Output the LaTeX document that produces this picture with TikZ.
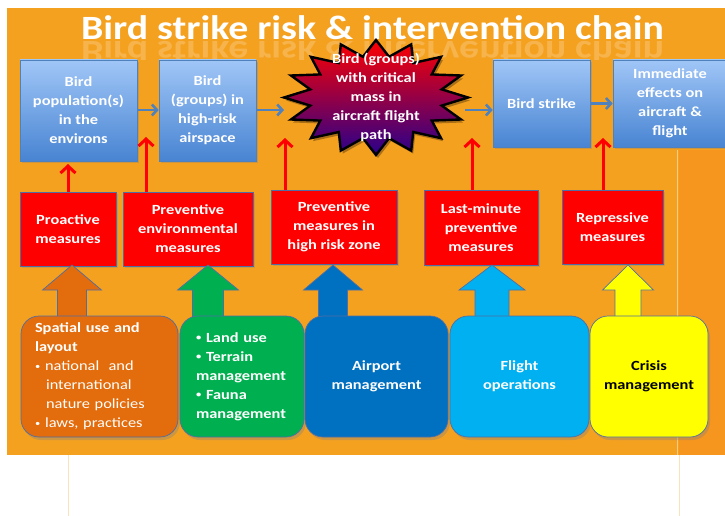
\documentclass[tikz,border=0pt]{standalone}
\usepackage{fontspec}
\setmainfont{Carlito}[FakeStretch=1.17]
\usetikzlibrary{arrows.meta,shadows}
\definecolor{bgorange}{RGB}{245,161,32}
\definecolor{stripor}{RGB}{247,150,30}
\definecolor{boxtop}{RGB}{160,198,247}
\definecolor{boxbot}{RGB}{72,132,210}
\definecolor{steel}{RGB}{79,129,189}
\definecolor{edgeblue}{RGB}{80,110,165}
\definecolor{borange}{RGB}{227,108,12}
\definecolor{bgreen}{RGB}{0,176,80}
\definecolor{bdblue}{RGB}{0,112,192}
\definecolor{blblue}{RGB}{0,176,240}
\definecolor{byellow}{RGB}{255,255,0}
\definecolor{starmid}{RGB}{160,0,130}
\definecolor{starbot}{RGB}{40,0,140}
\newcommand{\bul}{\makebox[10pt][l]{\raisebox{1.5pt}{\fontsize{9}{9}\selectfont •}}}
\newcommand{\bulind}{\hspace*{11pt}}
\begin{document}
\begin{tikzpicture}[x=1pt,y=-1pt,
  every node/.style={font=\fontsize{14}{19}\selectfont\bfseries, text=white, align=center},
  bluebox/.style={draw=steel, line width=0.6pt, top color=boxtop, bottom color=boxbot,
    drop shadow={opacity=0.35, shadow xshift=1.5pt, shadow yshift=-2pt}, inner sep=2pt},
  redbox/.style={draw=edgeblue, line width=0.7pt, fill=red,
    drop shadow={opacity=0.3, shadow xshift=1.5pt, shadow yshift=-2pt}, inner sep=2pt},
  basebox/.style={draw=edgeblue, line width=0.7pt, rounded corners=18pt,
    minimum height=121pt,
    drop shadow={opacity=0.35, shadow xshift=2pt, shadow yshift=-3pt}},
  bluearrow/.style={draw=steel, line width=2.6pt, -{Straight Barb[length=5pt,width=11pt]}},
  redarrow/.style={draw=red, line width=3pt, -{Straight Barb[length=7pt,width=15pt]}},
  blockarrow/.style={draw=edgeblue, line width=0.7pt}
]
\useasboundingbox (0,0) rectangle (725,516);
\fill[white] (0,0) rectangle (725,516);
% background
\fill[bgorange] (7,8) rectangle (725,455);
\fill[stripor] (679,150) rectangle (725,455);
\draw[white, opacity=0.45, line width=1pt] (677,150) -- (677,455);
\draw[bgorange, opacity=0.3, line width=0.8pt] (68,437) -- (68,516);
\draw[bgorange, opacity=0.3, line width=0.8pt] (679,455) -- (679,516);

% title and reflection
\node[font=\fontsize{34}{34}\selectfont\bfseries, anchor=base] (title) at (372.5,40) {Bird strike risk \& intervention chain};
\begin{scope}
\clip (7,42) rectangle (725,60);
\begin{scope}[shift={(372.5,42)}, yscale=-1]
\node[font=\fontsize{34}{34}\selectfont\bfseries, anchor=base, transform shape, text opacity=0.2] (refl) at (0,0) {Bird strike risk \& intervention chain};
\end{scope}
\end{scope}

% top row
\node[bluebox, minimum width=117pt, minimum height=101pt] (t1) at (78.5,110.5) {Bird\\population(s)\\in the\\environs};
\node[bluebox, minimum width=97pt, minimum height=101pt] (t2) at (207.5,110.5) {Bird\\(groups) in\\high-risk\\airspace};
\node[bluebox, minimum width=97pt, minimum height=87pt] (t4) at (541.5,103.5) {Bird strike};
\node[bluebox, minimum width=114pt, minimum height=87pt] (t5) at (670,103.5) {Immediate\\effects on\\aircraft \&\\flight};

% star
\begin{scope}[shift={(376,97.5)}]
\fill[black, opacity=0.3, xshift=2pt, yshift=-3pt] (-90:92 and 57.5)
  \foreach \i in {0,...,15} { -- ({-90+\i*22.5+11.25}:67 and 41.5) -- ({-90+(\i+1)*22.5}:92 and 57.5) } -- cycle;
\draw[black, line width=2.4pt, line join=miter, top color=red, middle color=starmid, bottom color=starbot] (-90:92 and 57.5)
  \foreach \i in {0,...,15} { -- ({-90+\i*22.5+11.25}:67 and 41.5) -- ({-90+(\i+1)*22.5}:92 and 57.5) } -- cycle;
\end{scope}
\node (stext) at (376,97) {Bird (groups)\\with critical\\mass in\\aircraft flight\\path};
\coordinate (starW) at (284,110);
\coordinate (starE) at (465,110);

% blue arrows
\draw[bluearrow] (t1.east |- 0,110) -- (t2.west |- 0,110);
\draw[bluearrow] (t2.east |- starW) -- (starW);
\draw[bluearrow] (starE) -- (t4.west |- starE);
\draw[bluearrow] (t4.east) -- (t5.west);

% red boxes
\node[redbox, minimum width=96pt, minimum height=74pt] (r1) at (68,229) {Proactive\\measures};
\node[redbox, minimum width=130pt, minimum height=74pt] (r2) at (188,229) {Preventive\\environmental\\measures};
\node[redbox, minimum width=126pt, minimum height=74pt] (r3) at (334,227) {Preventive\\measures in\\high risk zone};
\node[redbox, minimum width=114pt, minimum height=75pt] (r4) at (481,227.5) {Last-minute\\preventive\\measures};
\node[redbox, minimum width=101pt, minimum height=74pt] (r5) at (612.5,227) {Repressive\\measures};

% red arrows
\coordinate (e1) at (68,164);
\coordinate (e2) at (146,137);
\coordinate (e3) at (285,138);
\coordinate (e4) at (472,138);
\coordinate (e5) at (603,138);
\draw[redarrow] (r1.north -| e1) -- (e1);
\draw[redarrow] (r2.north -| e2) -- (e2);
\draw[redarrow] (r3.north -| e3) -- (e3);
\draw[redarrow] (r4.north -| e4) -- (e4);
\draw[redarrow] (r5.north -| e5) -- (e5);

% block arrows
\draw[blockarrow, fill=borange] (72,265) -- (101.5,290) -- (86.5,290) -- (86.5,318) -- (57.5,318) -- (57.5,290) -- (42.5,290) -- cycle;
\draw[blockarrow, fill=bgreen] (208,265) -- (238.5,290) -- (223.5,290) -- (223.5,318) -- (192.5,318) -- (192.5,290) -- (177.5,290) -- cycle;
\draw[blockarrow, fill=bdblue] (333,265) -- (362.5,290) -- (347.5,290) -- (347.5,318) -- (318.5,318) -- (318.5,290) -- (303.5,290) -- cycle;
\draw[blockarrow, fill=blblue] (492,265) -- (525,290) -- (509,290) -- (509,318) -- (475,318) -- (475,290) -- (459,290) -- cycle;
\draw[blockarrow, fill=byellow] (628,265) -- (653.5,290) -- (641,290) -- (641,318) -- (615,318) -- (615,290) -- (602.5,290) -- cycle;

% bottom boxes
\node[basebox, fill=borange, minimum width=157pt, text width=129pt, inner xsep=14pt, align=left] (b1) at (99.5,376.5)
  {Spatial use and\\layout\\\mdseries\bul national\ \ and\\\bulind international\\\bulind nature policies\\\bul laws, practices};
\node[basebox, fill=bgreen, minimum width=124pt, text width=100pt, inner xsep=12pt, align=left] (b2) at (242,376.5)
  {\hspace*{4pt}\bul Land use\\\hspace*{4pt}\bul Terrain\\\hspace*{4pt}management\\\hspace*{4pt}\bul Fauna\\\hspace*{4pt}management};
\node[basebox, fill=bdblue, minimum width=143pt] (b3) at (376.5,376.5) {Airport\\management};
\node[basebox, fill=blblue, minimum width=139pt] (b4) at (519.5,376.5) {Flight\\operations};
\node[basebox, fill=byellow, minimum width=118pt, text=black] (b5) at (649,376.5) {Crisis\\management};
\end{tikzpicture}
\end{document}
